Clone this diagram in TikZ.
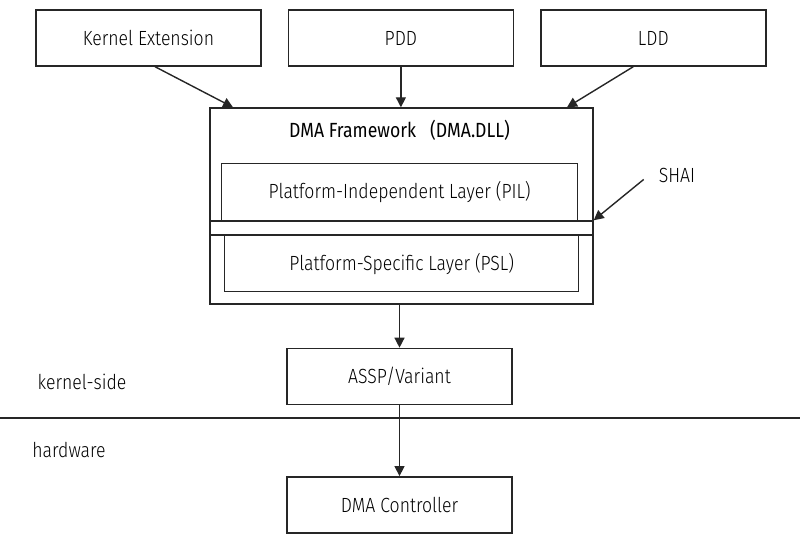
\documentclass[tikz,border=0pt]{standalone}
\usepackage{fontspec}
\setmainfont{Fira Sans}[UprightFont=* Light, FakeStretch=0.86]
\newfontfamily\headfont{Fira Sans}[FakeStretch=0.86]
\usetikzlibrary{arrows.meta,positioning}

\begin{document}
\begin{tikzpicture}[
  x=1pt, y=-1pt,
  font=\fontsize{20.5}{23}\selectfont,
  blk/.style={rectangle, draw=black!85, line width=1.4pt, fill=white,
              minimum width=225pt, minimum height=56pt, inner sep=0pt},
  lay/.style={rectangle, draw=black!85, line width=1.4pt,
              minimum height=56pt, inner sep=0pt},
  a/.style={-{Triangle[length=10pt, width=10pt]}, line width=1.4pt, draw=black!85},
  lbl/.style={inner sep=0pt}
]
\useasboundingbox (0,0) rectangle (800,537);

% ---------------- top row: clients ----------------
\node[blk] (kext) at (148.5,38) {Kernel Extension};
\node[blk, right=26pt of kext] (pdd) {PDD};
\node[blk, right=26pt of pdd] (ldd) {LDD};

% ---------------- framework ----------------
\node[lay, minimum width=383pt, minimum height=196pt] (frame) at (401.5,206) {};
\node[lbl, below=13pt of frame.north, xshift=-2pt, font=\headfont\fontsize{20.5}{23}\selectfont] (title)
  {DMA Framework\hspace{14pt}(DMA.DLL)};
\node[lay, minimum width=383pt, minimum height=14pt] (shai) at (401.5,228) {};
\node[lay, minimum width=356pt, minimum height=57pt, anchor=south west]
  (pil) at (221,221) {Platform-Independent Layer (PIL)};
\node[lay, minimum width=354pt, minimum height=56pt, anchor=north west]
  (psl) at (224,235) {Platform-Specific Layer (PSL)};
\node[lbl] (shailbl) at (677,175) {SHAI};

% ---------------- lower part ----------------
\node[blk, below=43pt of frame.south, xshift=-2pt, anchor=north] (assp) {ASSP/Variant};
\node[blk, below=71pt of assp] (dmac) {DMA Controller};
\coordinate (sepl) at (0,418);
\coordinate (sepr) at (800,418);
\node[lbl] (kside) at (82,382) {kernel-side};
\node[lbl] (hw) at (69,450) {hardware};

% ---------------- arrows ----------------
\draw[a] ([xshift=6.5pt]kext.south) -- ([xshift=-168.5pt]frame.north);
\draw[a] (pdd) -- (pdd |- frame.north);
\draw[a] ([xshift=-20pt]ldd.south) -- ([xshift=165.5pt]frame.north);
\draw[a] ([xshift=-15pt, yshift=3pt]shailbl.south west) -- (shai.north east);
\draw[a] (assp |- frame.south) -- (assp);
\draw[a] (assp) -- (dmac);
\draw[line width=1.4pt, draw=black!85] (sepl) -- (sepr);
\end{tikzpicture}
\end{document}
